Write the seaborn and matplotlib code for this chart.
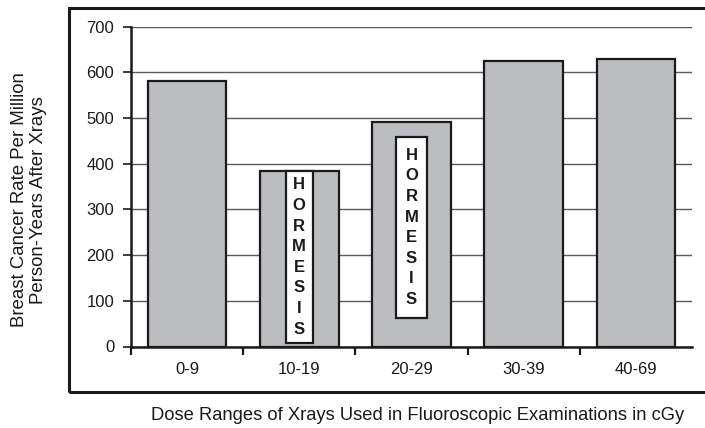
import matplotlib
matplotlib.use("Agg")
import matplotlib.pyplot as plt
import seaborn as sns
import pandas as pd
from matplotlib.patches import Rectangle

# data
categories = ["0-9", "10-19", "20-29", "30-39", "40-69"]
rates = [582, 384, 492, 626, 629]
y_ticks = [0, 100, 200, 300, 400, 500, 600, 700]

# "HORMESIS" annotation boxes (category index, bottom, top)
hormesis_cats = [1, 2]
hormesis_bottom = [8, 62]
hormesis_top = [384, 459]
hormesis_word = "HORMESIS"

sns.set_theme(style="white")
plt.rcParams["font.family"] = ["Liberation Sans", "DejaVu Sans"]

fig = plt.figure(figsize=(7.05, 4.28), dpi=100)
ax = fig.add_axes([131 / 705, 81.5 / 428, (692 - 131) / 705, (346.5 - 26.7) / 428])

df = pd.DataFrame({"dose": categories, "rate": rates})
sns.barplot(data=df, x="dose", y="rate", color="#bcbdc1", saturation=1,
            width=0.7, edgecolor="#1a1a1a", linewidth=1.6, ax=ax, zorder=3)

ax.set_xlim(-0.5, 4.5)
ax.set_ylim(0, 700)
ax.set_yticks(y_ticks)
ax.set_yticklabels([str(t) for t in y_ticks], fontsize=12, color="#1a1a1a")
ax.yaxis.grid(True, color="#5a5a5a", linewidth=1.0, zorder=0)
ax.set_axisbelow(True)

# x ticks: labels at centres, tick marks at boundaries
ax.set_xticks(range(len(categories)))
ax.set_xticklabels(categories, fontsize=12, color="#1a1a1a")
ax.set_xticks([i - 0.5 for i in range(len(categories))], minor=True)
ax.tick_params(axis="x", which="major", length=0, pad=11)
ax.tick_params(axis="x", which="minor", length=6, width=1.6, color="#1a1a1a", bottom=True, direction="out")
ax.tick_params(axis="y", which="major", length=6, width=1.2, color="#1a1a1a", left=True, direction="out", pad=6)

for s in ["top", "right"]:
    ax.spines[s].set_visible(False)
for s in ["left", "bottom"]:
    ax.spines[s].set_linewidth(1.8)
    ax.spines[s].set_color("#1a1a1a")
ax.spines["left"].set_zorder(5)
ax.spines["bottom"].set_zorder(5)

ax.set_xlabel("")
ax.set_ylabel("")

# Hormesis boxes
box_widths = [0.245, 0.285]
px_per_pt = 100 / 72
for c, b, t, w in zip(hormesis_cats, hormesis_bottom, hormesis_top, box_widths):
    ax.add_patch(Rectangle((c - w / 2, b), w, t - b, facecolor="white",
                           edgecolor="#1a1a1a", linewidth=1.6, zorder=6))
    mid = (b + t) / 2
    n = len(hormesis_word)
    for i, ch in enumerate(hormesis_word):
        off = ((n - 1) / 2 - i) * 20.6 / px_per_pt
        ax.annotate(ch, (c, mid), xytext=(0, off), textcoords="offset points",
                    ha="center", va="center", fontsize=12, fontweight="bold",
                    color="#1a1a1a", zorder=7)

# outer frame
fig.patches.append(Rectangle((69 / 705, (428 - 392) / 428), 0.95, (392 - 8) / 428,
                             transform=fig.transFigure, fill=False,
                             edgecolor="#1a1a1a", linewidth=2.2, zorder=0))

fig.text(418 / 705, 1 - 416 / 428,
         "Dose Ranges of Xrays Used in Fluoroscopic Examinations in cGy",
         ha="center", va="center", fontsize=13.2, color="#1a1a1a")
fig.text(29 / 705, 1 - 200 / 428,
         "Breast Cancer Rate Per Million\nPerson-Years After Xrays",
         ha="center", va="center", rotation=90, fontsize=13.4, color="#1a1a1a",
         linespacing=1.2)

fig.savefig("out.png", dpi=100)
